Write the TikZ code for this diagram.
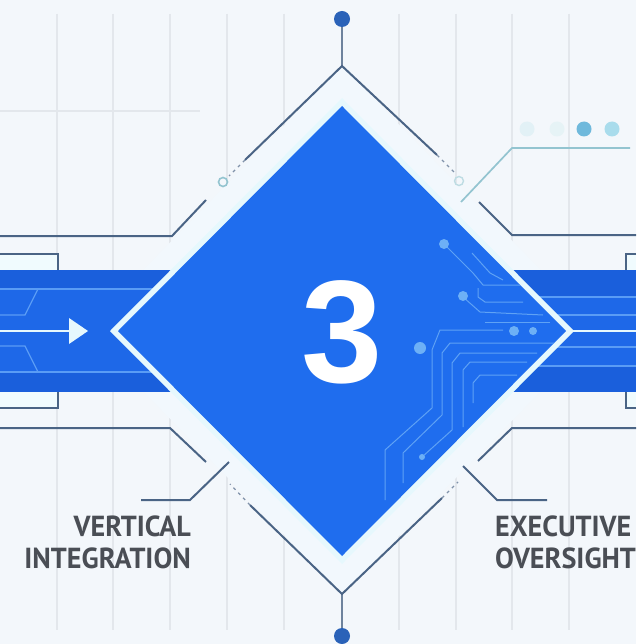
\documentclass[tikz,border=0pt]{standalone}
\usepackage{fontspec}
\setmainfont{Liberation Sans}
\newfontfamily\labelfont{PT Sans}
\definecolor{bgc}{HTML}{F3F7FB}
\definecolor{gridc}{HTML}{E3E7EC}
\definecolor{mainblue}{HTML}{1F6DEE}
\definecolor{bandblue}{HTML}{1E68E8}
\definecolor{bandedge}{HTML}{1A5FDC}
\definecolor{haloc}{HTML}{F2F8FD}
\definecolor{wirec}{HTML}{4A6485}
\definecolor{tipc}{HTML}{2A62B8}
\definecolor{tracec}{HTML}{5FA2F5}
\definecolor{padc}{HTML}{6DB0F6}
\definecolor{bandline}{HTML}{5A9CF5}
\definecolor{glowc}{HTML}{E6F8FD}
\definecolor{tealc}{HTML}{93C4D0}
\definecolor{textc}{HTML}{4A4E55}
\definecolor{dotA}{HTML}{E2F1F6}
\definecolor{dotB}{HTML}{E6F3F6}
\definecolor{dotC}{HTML}{6FB9DC}
\definecolor{dotD}{HTML}{A9DCEC}
\tikzset{
  x=1pt,y=-1pt,
  gridline/.style={draw=gridc,line width=1.2pt},
  wire/.style={draw=wirec,line width=2pt},
  dashwire/.style={draw=wirec!70,line width=1.2pt,dash pattern=on 3pt off 4pt},
  trace/.style={draw=tracec,line width=1pt},
  bandrule/.style={draw=bandline,line width=1.2pt},
  pad/.style={circle,fill=padc,inner sep=0pt,minimum size=#1},
  seqdot/.style={circle,inner sep=0pt,minimum size=15pt},
  caption/.style={font=\labelfont\bfseries\fontsize{29}{32}\selectfont,text=textc,inner sep=0pt,xscale=.97},
}
\begin{document}
\begin{tikzpicture}
\useasboundingbox (0,0) rectangle (636,644);
\fill[bgc] (0,0) rectangle (636,644);
% grid
\foreach \gx in {57,113,170,227,284,399,456,512,569}
  \draw[gridline] (\gx,14) -- (\gx,630);
\draw[gridline] (0,111) -- (200,111);
% sequence dots
\node[seqdot,fill=dotA] (d1) at (527,129) {};
\node[seqdot,fill=dotB] (d2) at (557,129) {};
\node[seqdot,fill=dotC] (d3) at (584,129) {};
\node[seqdot,fill=dotD] (d4) at (612,129) {};
% halo
\fill[haloc] (342,66) -- (600,331) -- (342,594) -- (84,331) -- cycle;
% brackets
\draw[wire,fill=glowc!60!white,line width=1.7pt] (0,254) -- (58,254) -- (58,272) -- (0,272);
\draw[wire,fill=glowc!60!white,line width=1.7pt] (0,408) -- (58,408) -- (58,390) -- (0,390);
\draw[wire,fill=glowc!60!white,line width=1.7pt] (636,254) -- (626,254) -- (626,272) -- (636,272);
\draw[wire,fill=glowc!60!white,line width=1.7pt] (636,408) -- (626,408) -- (626,390) -- (636,390);
% bands
\fill[bandblue] (0,270) rectangle (200,392);
\fill[bandblue] (636,270) rectangle (480,392);
\fill[bandedge] (0,270) rectangle (200,289);
\fill[bandedge] (0,372) rectangle (200,392);
\fill[bandedge] (636,270) rectangle (480,297);
\fill[bandedge] (636,366) rectangle (480,392);
\draw[bandrule] (0,289) -- (180,289);
\draw[bandrule] (0,372) -- (180,372);
\draw[bandrule] (0,315) -- (25,315) -- (38,289);
\draw[bandrule] (0,346) -- (25,346) -- (38,372);
\foreach \ry in {297,315,347,366}
  \draw[bandrule] (500,\ry) -- (636,\ry);
% arrow
\coordinate (arrowstart) at (0,331);
\coordinate (arrowend) at (88,331);
\draw[glowc,line width=2.4pt] (arrowstart) -- (72,331);
\fill[glowc] (69,318) -- (arrowend) -- (69,344) -- cycle;
\draw[glowc,line width=2.6pt] (560,331) -- (636,331);
% glow diamond
\fill[glowc] (342,98) -- (574,331) -- (342,564) -- (110,331) -- cycle;
% main diamond
\fill[mainblue] (342,106) -- (566,331) -- (342,556) -- (118,331) -- cycle;
% circuit traces
\begin{scope}
\clip (342,106) -- (566,331) -- (342,556) -- (118,331) -- cycle;
\draw[trace] (385,500) -- (385,450) -- (432,408) -- (432,350) -- (440,330) -- (503,330);
\draw[trace] (403,483) -- (403,453) -- (442,415) -- (442,353) -- (450,343) -- (557,343);
\draw[trace] (422,457) -- (452,430) -- (452,363) -- (460,353) -- (537,353);
\draw[trace] (463,427) -- (463,370) -- (470,362) -- (527,362);
\draw[trace] (473,403) -- (473,383) -- (480,375) -- (517,375);
\draw[trace] (444,244) -- (473,273) -- (483,285) -- (533,285);
\draw[trace] (472,253) -- (490,273) -- (503,280);
\draw[trace] (463,297) -- (480,312) -- (543,315);
\draw[trace] (478,288) -- (478,297) -- (485,302) -- (523,302);
\draw[trace] (485,322) -- (550,322);
\end{scope}
\node[pad=10pt] (p1) at (444,244) {};
\node[pad=10pt] (p2) at (463,296) {};
\node[pad=10pt] (p3) at (514,331) {};
\node[pad=8pt] (p4) at (533,331) {};
\node[pad=12pt] (p5) at (420,348) {};
\node[pad=6pt] (p6) at (422,457) {};
% numeral
\node[inner sep=0pt,text=white,font=\fontsize{146}{146}\selectfont\bfseries] (num) at (342,332) {3};
% outer frame wires
\node[circle,fill=tipc,inner sep=0pt,minimum size=16pt] (toptip) at (342,19) {};
\node[circle,fill=tipc,inner sep=0pt,minimum size=16pt] (bottip) at (342,636) {};
\coordinate (topc) at (342,66);
\coordinate (botc) at (342,594);
\draw[wirec!80,line width=2.6pt] (toptip) -- (topc);
\draw[wirec!80,line width=2.6pt] (bottip) -- (botc);
\draw[wire] (245,160) -- (topc) -- (437,155);
\draw[wire] (250,505) -- (botc) -- (442,498);
\draw[dashwire] (245,160) -- (229,176);
\draw[dashwire] (437,155) -- (455,173);
\draw[dashwire] (250,505) -- (230,484);
\draw[dashwire] (442,498) -- (458,482);
\node[circle,draw=tealc,line width=1.6pt,inner sep=0pt,minimum size=9pt] (c1) at (223,182) {};
\node[circle,draw=tealc!60,line width=1.4pt,inner sep=0pt,minimum size=9pt] (c2) at (459,181) {};
% side wires
\draw[wire] (206,200) -- (172,236) -- (0,236);
\draw[wire] (479,202) -- (512,235) -- (636,235);
\draw[wire] (0,428) -- (170,428) -- (206,462);
\draw[wire] (636,428) -- (512,428) -- (478,461);
\draw[wire] (141,500) -- (190,500) -- (229,462);
\draw[wire] (463,466) -- (497,500) -- (547,500);
\draw[draw=tealc,line width=1.7pt] (461,202) -- (512,148) -- (630,148);
% captions
\node[caption,anchor=east] (vert) at (191,526) {VERTICAL};
\node[caption,anchor=east] (integ) at (191,558) {INTEGRATION};
\node[caption,anchor=west] (exec) at (495,526) {EXECUTIVE};
\node[caption,anchor=west] (over) at (495,558) {OVERSIGHT};
\end{tikzpicture}
\end{document}
